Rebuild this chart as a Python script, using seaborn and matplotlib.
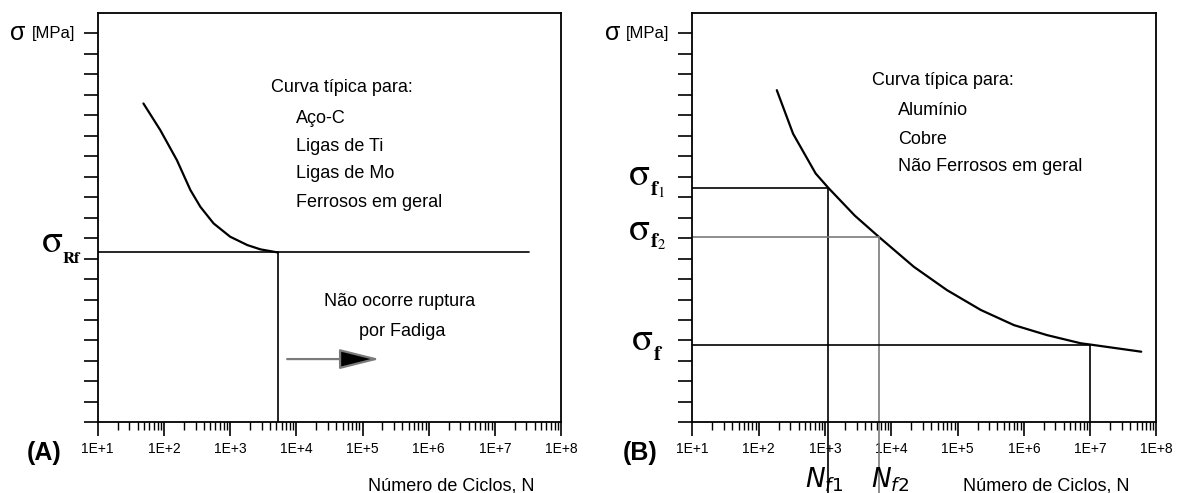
import numpy as np
import pandas as pd
import matplotlib
matplotlib.use("Agg")
import matplotlib.pyplot as plt
import seaborn as sns
from matplotlib.ticker import LogLocator, NullFormatter

# ---------------- data ----------------
x_tick_values = [1e1, 1e2, 1e3, 1e4, 1e5, 1e6, 1e7, 1e8]
x_tick_labels = ["1E+1", "1E+2", "1E+3", "1E+4", "1E+5", "1E+6", "1E+7", "1E+8"]
y_tick_values = list(range(0, 20))

# Panel A: ferrous curve with endurance limit
curve_a_cycles = [49, 88, 157, 251, 355, 562, 1000, 1820, 2880, 5250]
curve_a_sigma = [15.58, 14.28, 12.81, 11.35, 10.53, 9.72, 9.07, 8.66, 8.45, 8.3]
sigma_rf = 8.3
n_rf = 5250
rf_line_end = 3.3e7
arrow_start, arrow_end, arrow_level = 6600, 2.0e5, 3.09

# Panel B: non-ferrous curve
curve_b_cycles = [188, 331, 724, 1130, 2820, 6460, 21900, 69200, 224000,
                  708000, 2.24e6, 7.24e6, 1.0e7, 5.89e7]
curve_b_sigma = [16.23, 14.1, 12.16, 11.45, 10.1, 9.07, 7.60, 6.46, 5.49,
                 4.75, 4.26, 3.86, 3.80, 3.45]
sigma_f1, n_f1 = 11.45, 1130
sigma_f2, n_f2 = 9.07, 6460
sigma_f, n_f = 3.80, 1.0e7

text_a = ["Curva típica para:", "Aço-C", "Ligas de Ti", "Ligas de Mo", "Ferrosos em geral"]
text_b = ["Curva típica para:", "Alumínio", "Cobre", "Não Ferrosos em geral"]

# ---------------- style ----------------
sns.set_theme(style="ticks")
plt.rcParams["font.family"] = ["Liberation Sans", "DejaVu Sans"]
plt.rcParams["text.color"] = "black"
plt.rcParams["xtick.color"] = "black"
plt.rcParams["ytick.color"] = "black"
plt.rcParams["axes.edgecolor"] = "black"

fig = plt.figure(figsize=(11.79, 4.93), dpi=100)
axA = fig.add_axes([0.0829, 0.1434, 0.3930, 0.8302])
axB = fig.add_axes([0.5872, 0.1434, 0.3937, 0.8302])

GRAY = "#7a7a7a"
SERIF = ["STIXGeneral", "Liberation Serif", "DejaVu Serif"]
TXT = 13


def style_axes(ax):
    ax.set_xscale("log")
    ax.set_xlim(1e1, 1e8)
    ax.set_ylim(0, 20)
    ax.set_xticks(x_tick_values)
    ax.set_xticklabels(x_tick_labels, fontsize=10)
    ax.xaxis.set_minor_locator(LogLocator(base=10, subs=np.arange(2, 10)))
    ax.xaxis.set_minor_formatter(NullFormatter())
    ax.set_yticks(y_tick_values)
    ax.set_yticklabels([])
    ax.tick_params(axis="both", which="major", direction="out", length=10,
                   width=1.2, color="black", pad=4, labelcolor="black")
    ax.tick_params(axis="x", which="minor", direction="out", length=6,
                   width=1.0, color="black")
    for s in ax.spines.values():
        s.set_visible(True)
        s.set_color("black")
        s.set_linewidth(1.3)
    ax.set_xlabel("")
    ax.set_ylabel("")
    ax.text(0.763, -0.155, "Número de Ciclos, N", transform=ax.transAxes,
            ha="center", va="center", fontsize=TXT)


def put(ax, x_frac, y_val, s, **kw):
    ax.text(x_frac, y_val, s, transform=ax.get_yaxis_transform(), **kw)


# ---------------- Panel A ----------------
dfA = pd.DataFrame({"N": curve_a_cycles, "sigma": curve_a_sigma})
sns.lineplot(data=dfA, x="N", y="sigma", ax=axA, color="black", lw=1.6,
             sort=False, estimator=None)
style_axes(axA)
axA.plot([1e1, rf_line_end], [sigma_rf, sigma_rf], color="black", lw=1.2)
axA.plot([n_rf, n_rf], [0, sigma_rf], color="black", lw=1.2)

axA.text(0.373, 0.817, text_a[0], transform=axA.transAxes, ha="left",
         va="center", fontsize=TXT)
for i, t in enumerate(text_a[1:]):
    axA.text(0.428, [0.743, 0.673, 0.607, 0.536][i], t, transform=axA.transAxes,
             ha="left", va="center", fontsize=TXT)
axA.text(0.651, 0.294, "Não ocorre ruptura", transform=axA.transAxes,
         ha="center", va="center", fontsize=TXT)
axA.text(0.656, 0.221, "por Fadiga", transform=axA.transAxes,
         ha="center", va="center", fontsize=TXT)
axA.annotate("", xy=(arrow_end, arrow_level), xytext=(arrow_start, arrow_level),
             arrowprops=dict(arrowstyle="-|>,head_length=1.4,head_width=0.35",
                             ec=GRAY, fc="black", lw=1.6, mutation_scale=18))

# sigma_Rf label
put(axA, -0.075, sigma_rf, "σ", ha="right", va="baseline", fontsize=28,
    family=SERIF)
put(axA, -0.075, 7.78, "Rf", ha="left", va="baseline", fontsize=12,
    family=SERIF, fontweight="bold")
# sigma [MPa]
put(axA, -0.189, 19, "σ", ha="left", va="center", fontsize=18)
put(axA, -0.142, 19, "[MPa]", ha="left", va="center", fontsize=12)
axA.text(-0.116, -0.076, "(A)", transform=axA.transAxes, ha="center",
         va="center", fontsize=18, fontweight="bold")

# ---------------- Panel B ----------------
dfB = pd.DataFrame({"N": curve_b_cycles, "sigma": curve_b_sigma})
sns.lineplot(data=dfB, x="N", y="sigma", ax=axB, color="black", lw=1.6,
             sort=False, estimator=None)
style_axes(axB)
axB.plot([1e1, n_f1], [sigma_f1, sigma_f1], color="black", lw=1.2)
axB.plot([n_f1, n_f1], [sigma_f1, -3.45], color="black", lw=1.2, clip_on=False)
axB.plot([1e1, n_f2], [sigma_f2, sigma_f2], color=GRAY, lw=1.2)
axB.plot([n_f2, n_f2], [sigma_f2, -3.45], color=GRAY, lw=1.2, clip_on=False)
axB.plot([1e1, n_f], [sigma_f, sigma_f], color="black", lw=1.2)
axB.plot([n_f, n_f], [sigma_f, 0], color="black", lw=1.2)

axB.text(0.388, 0.834, text_b[0], transform=axB.transAxes, ha="left",
         va="center", fontsize=TXT)
for i, t in enumerate(text_b[1:]):
    axB.text(0.443, [0.763, 0.692, 0.624][i], t, transform=axB.transAxes,
             ha="left", va="center", fontsize=TXT)

# sigma_f labels
put(axB, -0.091, 11.59, "σ", ha="right", va="baseline", fontsize=28, family=SERIF)
put(axB, -0.091, 11.10, r"$\mathbf{f}_{1}$", ha="left", va="baseline",
    fontsize=15, math_fontfamily="stix")
put(axB, -0.091, 8.91, "σ", ha="right", va="baseline", fontsize=28, family=SERIF)
put(axB, -0.091, 8.57, r"$\mathbf{f}_{2}$", ha="left", va="baseline",
    fontsize=15, math_fontfamily="stix")
put(axB, -0.084, 3.53, "σ", ha="right", va="baseline", fontsize=28, family=SERIF)
put(axB, -0.084, 3.04, r"$\mathbf{f}$", ha="left", va="baseline",
    fontsize=15, math_fontfamily="stix")
# sigma [MPa]
put(axB, -0.188, 19, "σ", ha="left", va="center", fontsize=18)
put(axB, -0.143, 19, "[MPa]", ha="left", va="center", fontsize=12)
axB.text(-0.113, -0.076, "(B)", transform=axB.transAxes, ha="center",
         va="center", fontsize=18, fontweight="bold")

xtB = axB.get_xaxis_transform()
axB.text(10 ** 2.99, -0.141, r"$N_{f1}$", transform=xtB, ha="center",
         va="center", fontsize=19, math_fontfamily="dejavusans")
axB.text(10 ** 3.99, -0.141, r"$N_{f2}$", transform=xtB, ha="center",
         va="center", fontsize=19, math_fontfamily="dejavusans")

fig.savefig("out.png", dpi=100)
